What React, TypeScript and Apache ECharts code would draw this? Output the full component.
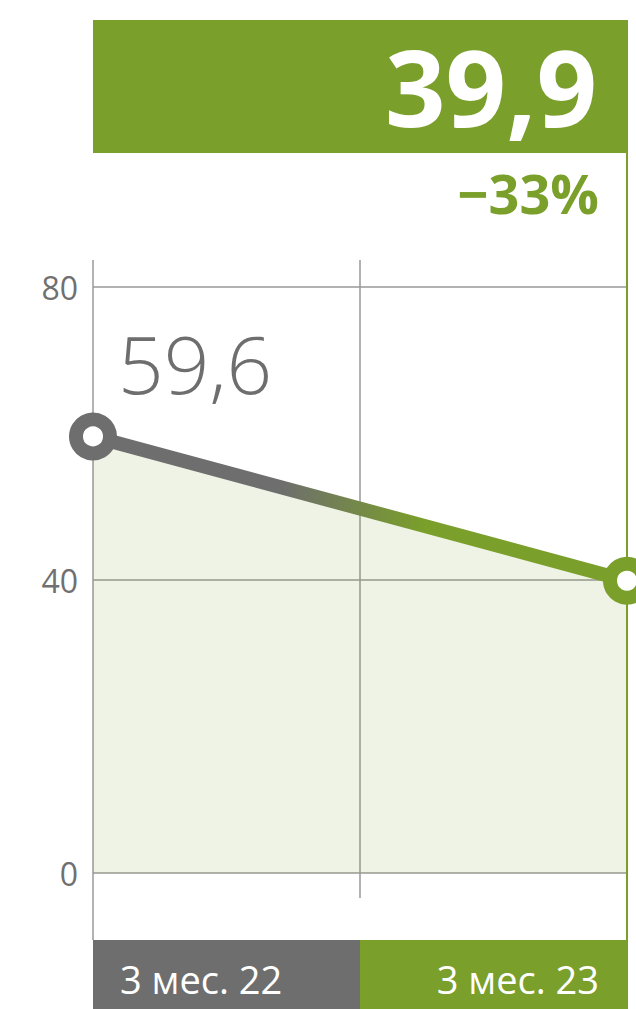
import React, { useEffect, useRef } from 'react';
import * as echarts from 'echarts';

const categories = ['3 мес. 22', '3 мес. 23'];
const values = [59.6, 39.9];
const yMin = 0;
const yMax = 80;
const yStep = 40;
const headline = '39,9';
const change = '−33%';

const GREEN = '#7a9f2a';
const GRAY = '#6e6e6e';
const FONT = 'Open Sans';

export default function App() {
  const ref = useRef<HTMLDivElement>(null);
  useEffect(() => {
    document.body.style.margin = '0';
    const chart = echarts.init(ref.current!, null, { renderer: 'svg' });
    const fmt = (v: number) => v.toFixed(1).replace('.', ',');
    const L = 93, R = 627, T = 287, B = 873;
    chart.setOption({
      animation: false,
      grid: { left: L, right: 636 - R, top: T, bottom: 1009 - B },
      xAxis: {
        type: 'category', data: categories, boundaryGap: false,
        axisLine: { show: false }, axisTick: { show: false },
        axisLabel: { show: false }, splitLine: { show: false },
      },
      yAxis: {
        type: 'value', min: yMin, max: yMax, interval: yStep,
        axisLine: { show: false }, axisTick: { show: false },
        axisLabel: { color: '#707070', fontSize: 32, fontFamily: FONT, margin: 15 },
        splitLine: { lineStyle: { color: '#999999', width: 1.5 } },
      },
      series: [{
        type: 'line',
        data: values.map((v, i) => ({
          value: v,
          itemStyle: { borderColor: i === 0 ? GRAY : GREEN },
          label: i === 0 ? {
            show: true, formatter: () => fmt(v), position: [49, -50],
            align: 'left', verticalAlign: 'middle',
            color: GRAY, fontSize: 80, fontWeight: 300, fontFamily: FONT,
          } : { show: false },
        })),
        symbol: 'circle', symbolSize: 34,
        itemStyle: { color: '#ffffff', borderWidth: 14, opacity: 1 },
        lineStyle: {
          width: 14,
          color: new echarts.graphic.LinearGradient(0, 0, 1, 0, [
            { offset: 0, color: GRAY }, { offset: 0.35, color: GRAY },
            { offset: 0.62, color: GREEN }, { offset: 1, color: GREEN },
          ]),
        },
        areaStyle: { color: GREEN, opacity: 0.12 },
        z: 5,
      }],
      graphic: [
        { type: 'rect', shape: { x: 93, y: 20, width: 535, height: 133 }, style: { fill: GREEN }, z: 1 },
        { type: 'text', x: 597, y: 86, style: { text: headline, align: 'right', verticalAlign: 'middle', fill: '#ffffff', fontSize: 106, fontWeight: 700, fontFamily: FONT }, z: 2 },
        { type: 'text', x: 599, y: 193, style: { text: change, align: 'right', verticalAlign: 'middle', fill: GREEN, fontSize: 54, fontWeight: 700, fontFamily: FONT }, z: 2 },
        { type: 'line', shape: { x1: 93, y1: 260, x2: 93, y2: 940 }, style: { stroke: '#999999', lineWidth: 1.5 }, z: 1 },
        { type: 'line', shape: { x1: 360, y1: 260, x2: 360, y2: 898 }, style: { stroke: '#999999', lineWidth: 1.5 }, z: 1 },
        { type: 'line', shape: { x1: 627, y1: 153, x2: 627, y2: 1009 }, style: { stroke: GREEN, lineWidth: 2 }, z: 1 },
        { type: 'rect', shape: { x: 93, y: 940, width: 267, height: 69 }, style: { fill: GRAY }, z: 1 },
        { type: 'rect', shape: { x: 360, y: 940, width: 268, height: 69 }, style: { fill: GREEN }, z: 1 },
        { type: 'text', x: 120, y: 979, style: { text: categories[0], align: 'left', verticalAlign: 'middle', fill: '#ffffff', fontSize: 38, fontFamily: FONT }, z: 2 },
        { type: 'text', x: 599, y: 979, style: { text: categories[1], align: 'right', verticalAlign: 'middle', fill: '#ffffff', fontSize: 38, fontFamily: FONT }, z: 2 },
      ],
    });
    return () => chart.dispose();
  }, []);
  return <div ref={ref} style={{ width: 636, height: 1009 }} />;
}
